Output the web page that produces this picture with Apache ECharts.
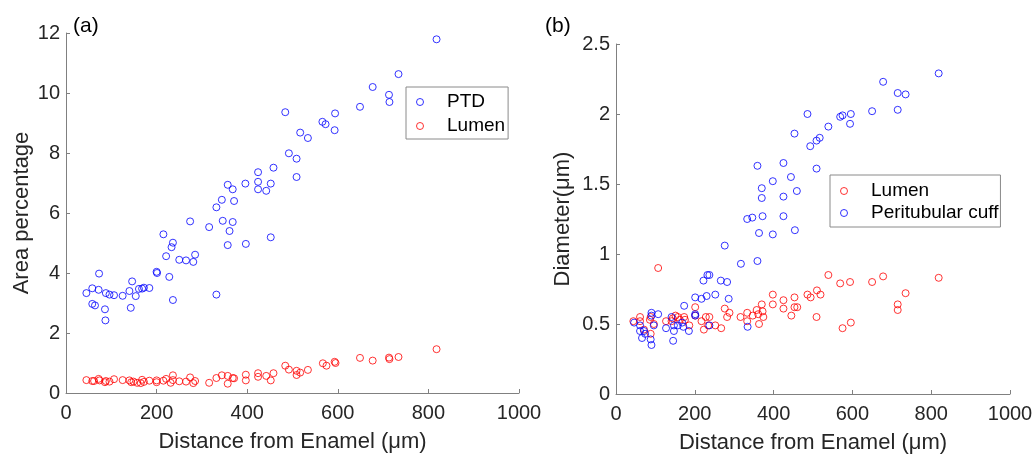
<!DOCTYPE html>
<html>
<head>
<meta charset="utf-8">
<script src="https://cdn.jsdelivr.net/npm/echarts@6/dist/echarts.min.js"></script>
<style>
  html, body { margin: 0; padding: 0; background: #fff; }
  #chart { width: 1036px; height: 459px; }
</style>
</head>
<body>
<div id="chart"></div>
<script>
// (a) area percentage vs distance  [distance µm, %]
const ptdArea = [
  [45,3.33],[58,3.49],[58,2.97],[64,2.92],[72,3.44],[73,3.98],[86,2.79],[87,2.42],[88,3.33],[96,3.28],
  [106,3.26],[125,3.24],[140,3.40],[143,2.84],[146,3.72],[154,3.23],[161,3.47],[168,3.48],[172,3.51],[184,3.50],
  [200,4.04],[201,4.00],[215,5.29],[221,4.56],[228,3.87],[233,4.86],[236,5.01],[236,3.10],[250,4.44],[265,4.42],
  [274,5.72],[281,4.37],[285,4.61],[316,5.53],[332,6.19],[332,3.28],[344,6.44],[346,5.74],[357,6.94],[357,4.93],
  [361,5.40],[368,6.79],[368,5.70],[371,6.40],[396,6.98],[397,4.97],[424,7.36],[424,7.04],[424,6.79],[442,6.74],
  [452,6.98],[452,5.19],[458,7.51],[484,9.36],[492,7.99],[509,7.81],[509,7.20],[517,8.68],[534,8.50],[566,9.04],
  [573,8.96],[593,8.76],[594,9.32],[649,9.54],[677,10.20],[713,9.94],[714,9.70],[734,10.63],[818,11.79]
]
const lumenArea = [
  [45,0.43],[58,0.40],[62,0.40],[72,0.47],[74,0.42],[86,0.36],[88,0.40],[96,0.38],[106,0.46],[125,0.43],
  [140,0.42],[144,0.36],[149,0.38],[157,0.34],[165,0.33],[168,0.44],[172,0.37],[184,0.41],[200,0.42],[200,0.36],
  [215,0.41],[221,0.47],[231,0.34],[236,0.59],[236,0.43],[250,0.39],[265,0.38],[274,0.52],[281,0.33],[285,0.40],
  [316,0.34],[332,0.50],[344,0.59],[357,0.57],[357,0.31],[368,0.50],[371,0.49],[397,0.61],[397,0.42],[424,0.66],
  [424,0.54],[442,0.57],[452,0.42],[458,0.66],[484,0.91],[492,0.78],[509,0.74],[509,0.60],[517,0.68],[534,0.77],
  [567,0.99],[575,0.91],[593,1.04],[595,1.00],[649,1.17],[677,1.08],[713,1.18],[714,1.13],[734,1.20],[818,1.46]
]

// (b) diameter vs distance  [distance µm, µm]
const lumenDiam = [
  [44,0.52],[61,0.55],[61,0.52],[71,0.46],[86,0.53],[88,0.43],[88,0.55],[96,0.50],[107,0.90],[127,0.52],
  [141,0.52],[144,0.54],[151,0.56],[157,0.55],[162,0.53],[173,0.55],[175,0.53],[186,0.49],[201,0.62],[201,0.56],
  [217,0.52],[223,0.46],[228,0.55],[234,0.49],[237,0.55],[252,0.49],[267,0.47],[276,0.61],[282,0.55],[288,0.58],
  [316,0.55],[333,0.58],[333,0.52],[347,0.56],[357,0.60],[361,0.57],[363,0.50],[370,0.64],[372,0.59],[374,0.55],
  [398,0.71],[398,0.64],[425,0.67],[425,0.61],[445,0.56],[453,0.69],[453,0.62],[460,0.62],[486,0.71],[494,0.69],
  [509,0.55],[510,0.74],[519,0.71],[539,0.85],[569,0.79],[575,0.47],[594,0.80],[596,0.51],[650,0.80],[678,0.84],
  [715,0.64],[715,0.60],[735,0.72],[819,0.83]
]
const cuffDiam = [
  [46,0.51],[61,0.49],[61,0.45],[66,0.40],[71,0.45],[74,0.43],[88,0.39],[90,0.58],[90,0.56],[90,0.35],
  [96,0.49],[107,0.57],[127,0.47],[141,0.55],[145,0.38],[147,0.49],[147,0.45],[157,0.49],[168,0.51],[171,0.48],
  [173,0.63],[185,0.45],[201,0.69],[201,0.57],[201,0.56],[217,0.68],[222,0.81],[230,0.70],[232,0.85],[237,0.85],
  [237,0.49],[252,0.71],[266,0.81],[276,1.06],[282,0.80],[286,0.68],[317,0.93],[333,1.25],[334,0.48],[346,1.26],
  [359,0.95],[359,1.63],[363,1.15],[370,1.47],[370,1.40],[372,1.27],[398,1.52],[398,1.14],[425,1.65],[425,1.41],
  [425,1.27],[444,1.55],[453,1.86],[454,1.17],[459,1.45],[486,2.00],[493,1.77],[509,1.81],[509,1.61],[517,1.83],
  [539,1.91],[569,1.98],[575,1.99],[594,1.93],[596,2.00],[650,2.02],[678,2.23],[715,2.15],[715,2.03],[735,2.14],
  [819,2.29]
]

const FONT = 'Liberation Sans, Arial, sans-serif'
const axisGray = '#808080'
const labelColor = '#262626'

function xAxisOf(gridIndex) {
  return {
    gridIndex: gridIndex,
    type: 'value',
    min: 0, max: 1000, interval: 200,
    name: 'Distance from Enamel (μm)',
    nameLocation: 'middle',
    nameGap: 38,
    nameTextStyle: { fontFamily: FONT, fontSize: 22, color: labelColor },
    axisLine: { show: true, lineStyle: { color: axisGray, width: 1 } },
    axisTick: { show: true, inside: true, length: 4, lineStyle: { color: axisGray } },
    axisLabel: { fontFamily: FONT, fontSize: 20, color: labelColor, margin: 10, formatter: (v) => String(v) },
    splitLine: { show: false }
  }
}

function yAxisOf(gridIndex, max, interval, name, gap) {
  return {
    gridIndex: gridIndex,
    type: 'value',
    min: 0, max: max, interval: interval,
    name: name,
    nameLocation: 'middle',
    nameGap: gap,
    nameTextStyle: { fontFamily: FONT, fontSize: 22, color: labelColor },
    axisLine: { show: true, lineStyle: { color: axisGray, width: 1 } },
    axisTick: { show: true, inside: true, length: 4, lineStyle: { color: axisGray } },
    axisLabel: { fontFamily: FONT, fontSize: 20, color: labelColor, margin: 6, formatter: (v) => String(v) },
    splitLine: { show: false }
  }
}

function scatterOf(name, data, color, idx) {
  return {
    name: name,
    type: 'scatter',
    xAxisIndex: idx,
    yAxisIndex: idx,
    data: data,
    symbol: 'circle',
    symbolSize: 7,
    itemStyle: { color: 'rgba(0,0,0,0)', borderColor: color, borderWidth: 1 }
  }
}

function legendOf(names, left, top, lineH, padding) {
  return {
    data: names,
    orient: 'vertical',
    left: left,
    top: top,
    padding: padding,
    itemGap: 0,
    itemWidth: 20,
    itemHeight: 7,
    itemStyle: { borderWidth: 1 },
    borderColor: '#8a8a8a',
    borderWidth: 1,
    backgroundColor: '#fff',
    selectedMode: false,
    textStyle: { fontFamily: FONT, fontSize: 19, color: '#000', lineHeight: lineH, padding: [0, 0, 0, 12] }
  }
}

const chart = echarts.init(document.getElementById('chart'))
chart.setOption({
  animation: false,
  title: [
    { text: '(a)', left: 68, top: 11, textStyle: { fontFamily: FONT, fontSize: 21, fontWeight: 'normal', color: '#000' } },
    { text: '(b)', left: 540, top: 11, textStyle: { fontFamily: FONT, fontSize: 21, fontWeight: 'normal', color: '#000' } }
  ],
  grid: [
    { left: 66, top: 33, width: 453, height: 360 },
    { left: 616, top: 44, width: 394, height: 350 }
  ],
  xAxis: [xAxisOf(0), xAxisOf(1)],
  yAxis: [
    yAxisOf(0, 12, 2, 'Area percentage', 33),
    yAxisOf(1, 2.5, 0.5, 'Diameter(μm)', 42)
  ],
  legend: [
    legendOf(['PTD', 'Lumen'], 406, 87, 24, [3, 3, 1, 10]),
    legendOf(['Lumen', 'Peritubular cuff'], 830, 175, 22, [5, 2, 3, 10])
  ],
  series: [
    scatterOf('PTD', ptdArea, '#0000ff', 0),
    scatterOf('Lumen', lumenArea, '#ff0000', 0),
    scatterOf('Lumen', lumenDiam, '#ff0000', 1),
    scatterOf('Peritubular cuff', cuffDiam, '#0000ff', 1)
  ]
})
</script>
</body>
</html>
